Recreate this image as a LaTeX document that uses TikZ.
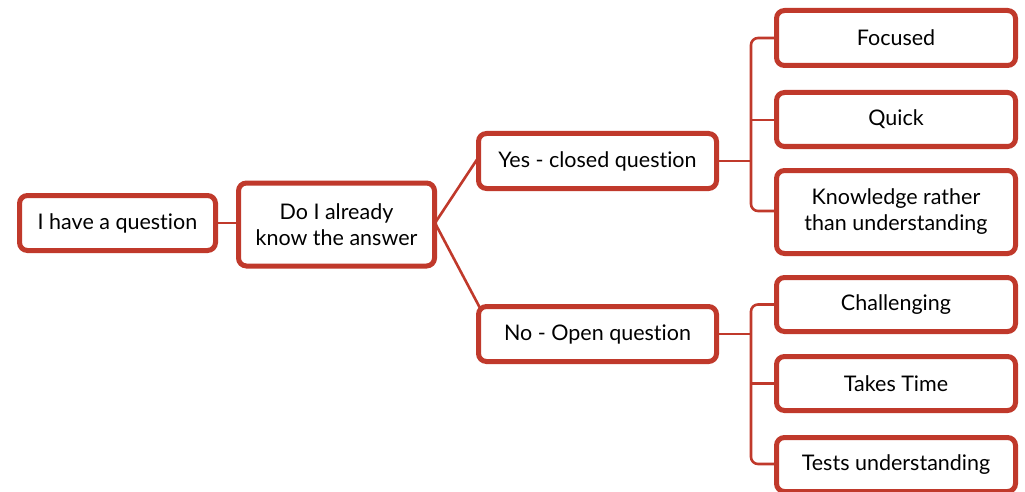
\documentclass[tikz,border=0pt]{standalone}
\usepackage{fontspec}
\setmainfont{Lato}[Ligatures={NoCommon}]
\usetikzlibrary{positioning,calc}
\definecolor{brick}{RGB}{192,57,43}
\newcommand{\low}[1]{\raisebox{-5pt}{#1}}
\begin{document}
\begin{tikzpicture}[x=1pt,y=-1pt,
  box/.style={draw=brick, line width=5pt, rounded corners=8pt, fill=white,
    align=center, font=\fontsize{21.5}{26}\selectfont, inner sep=0pt},
  link/.style={draw=brick, line width=2.6pt},
  tree/.style={draw=brick, line width=2.6pt, rounded corners=7pt}]
\useasboundingbox (0,0) rectangle (1025,492);
\begin{scope}
\clip (0,0) rectangle (1025,492);
% connectors first, boxes on top
\coordinate (qc) at (117.5,223);
\coordinate (dc) at (336.5,223);
\coordinate (yc) at (597.5,161);
\coordinate (nc) at (597.5,334);
\draw[link] (215,223) -- (240,223);
\draw[link] (435,223) -- (478,158);
\draw[link] (435,223) -- (480,308);
% closed-question branch
\draw[link] (715,161) -- (751,161);
\draw[tree] (778,38) -- (751,38) -- (751,211) -- (778,211);
\draw[link] (751,120) -- (778,120);
% open-question branch
\draw[link] (715,334) -- (751,334);
\draw[tree] (778,304.5) -- (751,304.5) -- (751,464) -- (778,464);
\draw[link] (751,383.5) -- (778,383.5);
% boxes
\node[box, minimum width=196pt, minimum height=55pt] (q) at (qc) {\low{I have a question}};
\node[box, minimum width=196pt, minimum height=83pt] (d) at ($(dc)+(0,1.5)$) {Do I already\\know the answer};
\node[box, minimum width=238pt, minimum height=55pt] (y) at (yc) {\low{Yes - closed question}};
\node[box, minimum width=238pt, minimum height=55pt] (n) at (nc) {\low{No - Open question}};
\node[box, minimum width=239pt, minimum height=55pt] (f) at (896,38) {\low{Focused}};
\node[box, minimum width=239pt, minimum height=54pt] (k) at (896,119.5) {\low{Quick}};
\node[box, minimum width=239pt, minimum height=83pt] (u) at (896,212) {Knowledge rather\\than understanding};
\node[box, minimum width=239pt, minimum height=54pt] (c) at (896,304.5) {\low{Challenging}};
\node[box, minimum width=239pt, minimum height=54pt] (t) at (896,383.5) {\low{Takes Time}};
\node[box, minimum width=239pt, minimum height=54pt] (s) at (896,464.5) {\low{Tests understanding}};
\end{scope}
\end{tikzpicture}
\end{document}
